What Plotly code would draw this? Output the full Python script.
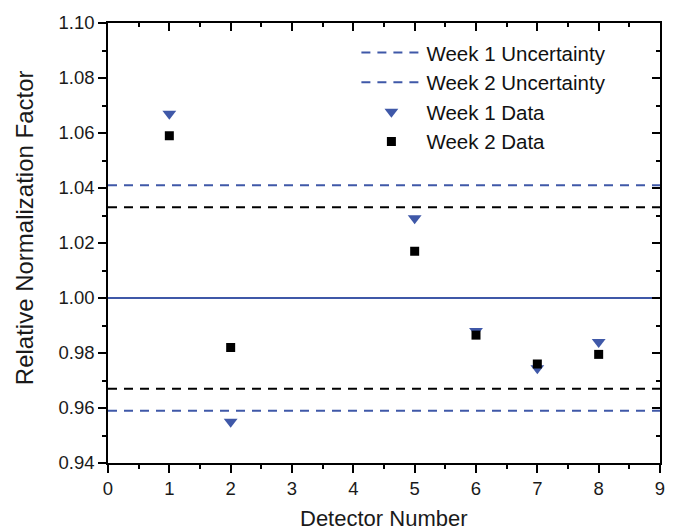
import plotly.graph_objects as go

detectors = [1, 2, 5, 6, 7, 8]
week1 = [1.067, 0.955, 1.029, 0.988, 0.9745, 0.984]
week2 = [1.059, 0.982, 1.017, 0.9865, 0.976, 0.9795]
week1_unc = 0.041
week2_unc = 0.033
reference = 1.00
x_span = [0, 9]

BLUE = "#3F58A8"
BLACK = "#000000"
FONT = "Liberation Sans, Arial, sans-serif"

fig = go.Figure()

fig.add_trace(go.Scatter(x=x_span, y=[reference, reference], mode="lines",
                         line=dict(color=BLUE, width=2), showlegend=False, hoverinfo="skip"))
for val, col in [(reference + week1_unc, BLUE), (reference - week1_unc, BLUE),
                 (reference + week2_unc, BLACK), (reference - week2_unc, BLACK)]:
    fig.add_trace(go.Scatter(x=x_span, y=[val, val], mode="lines",
                             line=dict(color=col, width=2, dash="9px,7px"),
                             showlegend=False, hoverinfo="skip"))

fig.add_trace(go.Scatter(x=[None], y=[None], mode="lines", name="Week 1 Uncertainty",
                         line=dict(color=BLUE, width=2, dash="9px,7px")))
fig.add_trace(go.Scatter(x=[None], y=[None], mode="lines", name="Week 2 Uncertainty",
                         line=dict(color=BLUE, width=2, dash="9px,7px")))

fig.add_trace(go.Scatter(x=detectors, y=week1, mode="markers", name="Week 1 Data",
                         marker=dict(symbol="triangle-down", size=12, color=BLUE,
                                     line=dict(width=0))))
fig.add_trace(go.Scatter(x=detectors, y=week2, mode="markers", name="Week 2 Data",
                         marker=dict(symbol="square", size=9, color=BLACK,
                                     line=dict(width=0))))

fig.add_trace(go.Scatter(x=[None], y=[None], xaxis="x2", yaxis="y2", showlegend=False))

tickfont = dict(family=FONT, size=18.5, color="#1a1a1a")
fig.update_layout(
    width=689, height=531,
    margin=dict(l=108, r=29, t=17, b=68),
    paper_bgcolor="white", plot_bgcolor="white",
    font=dict(family=FONT, color="#1a1a1a"),
    showlegend=True,
    legend=dict(x=0.45, y=0.978, xanchor="left", yanchor="top",
                bgcolor="rgba(0,0,0,0)", font=dict(family=FONT, size=20.5, color="#111"),
                tracegroupgap=0, itemwidth=60),
    xaxis=dict(range=[0, 9], dtick=1, tick0=0, showgrid=False, zeroline=False,
               showline=True, linecolor="black", linewidth=1.5,
               ticks="outside", ticklen=8, tickwidth=1.5, tickcolor="black",
               minor=dict(dtick=0.5, ticks="outside", ticklen=4, tickwidth=1.5, tickcolor="black"),
               tickfont=tickfont),
    yaxis=dict(range=[0.94, 1.10], dtick=0.02, tick0=0.94, tickformat=".2f",
               showgrid=False, zeroline=False,
               showline=True, linecolor="black", linewidth=1.5,
               ticks="outside", ticklen=8, tickwidth=1.5, tickcolor="black",
               minor=dict(dtick=0.01, ticks="outside", ticklen=4, tickwidth=1.5, tickcolor="black"),
               tickfont=tickfont),
    xaxis2=dict(range=[0, 9], dtick=1, overlaying="x", side="top", showgrid=False,
                zeroline=False, showline=True, linecolor="black", linewidth=1.5,
                ticks="inside", ticklen=8, tickwidth=1.5, tickcolor="black",
                minor=dict(dtick=0.5, ticks="inside", ticklen=4, tickwidth=1.5, tickcolor="black"),
                showticklabels=False),
    yaxis2=dict(range=[0.94, 1.10], dtick=0.02, tick0=0.94, overlaying="y", side="right",
                showgrid=False, zeroline=False, showline=True, linecolor="black", linewidth=1.5,
                ticks="inside", ticklen=8, tickwidth=1.5, tickcolor="black",
                minor=dict(dtick=0.01, ticks="inside", ticklen=4, tickwidth=1.5, tickcolor="black"),
                showticklabels=False),
    annotations=[
        dict(text="Detector Number", xref="paper", yref="paper",
             x=0.5, y=0, yshift=-55, xanchor="center", yanchor="middle",
             showarrow=False, font=dict(family=FONT, size=22, color="#1a1a1a")),
        dict(text="Relative Normalization Factor", xref="paper", yref="paper",
             x=0, xshift=-84, y=(463 - 225) / 446, xanchor="center", yanchor="middle",
             textangle=-90, showarrow=False, font=dict(family=FONT, size=24, color="#1a1a1a")),
    ],
)

fig.write_html("out.html")
